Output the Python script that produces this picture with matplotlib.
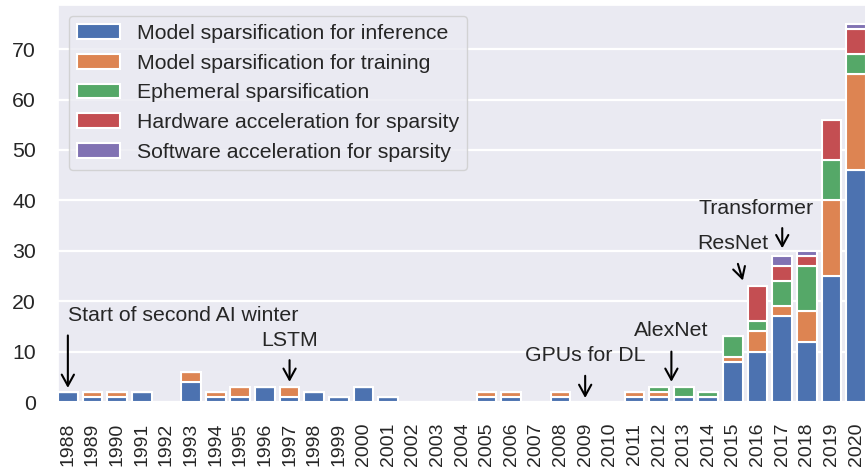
import numpy as np
import matplotlib
matplotlib.use("Agg")
import matplotlib.pyplot as plt
import seaborn as sns

years = list(range(1988, 2021))
inference = [2, 1, 1, 2, 0, 4, 1, 1, 3, 1, 2, 1, 3, 1, 0, 0, 0, 1, 1, 0, 1, 0, 0, 1, 1, 1, 1, 8, 10, 17, 12, 25, 46]
training  = [0, 1, 1, 0, 0, 2, 1, 2, 0, 2, 0, 0, 0, 0, 0, 0, 0, 1, 1, 0, 1, 0, 0, 1, 1, 0, 0, 1, 4, 2, 6, 15, 19]
ephemeral = [0, 0, 0, 0, 0, 0, 0, 0, 0, 0, 0, 0, 0, 0, 0, 0, 0, 0, 0, 0, 0, 0, 0, 0, 1, 2, 1, 4, 2, 5, 9, 8, 4]
hardware  = [0, 0, 0, 0, 0, 0, 0, 0, 0, 0, 0, 0, 0, 0, 0, 0, 0, 0, 0, 0, 0, 0, 0, 0, 0, 0, 0, 0, 7, 3, 2, 8, 5]
software  = [0, 0, 0, 0, 0, 0, 0, 0, 0, 0, 0, 0, 0, 0, 0, 0, 0, 0, 0, 0, 0, 0, 0, 0, 0, 0, 0, 0, 0, 2, 1, 0, 1]

series_labels = [
    "Model sparsification for inference",
    "Model sparsification for training",
    "Ephemeral sparsification",
    "Hardware acceleration for sparsity",
    "Software acceleration for sparsity",
]
colors = ["#4C72B0", "#DD8452", "#55A868", "#C44E52", "#8172B3"]

sns.set_theme(style="darkgrid")
plt.rcParams["font.family"] = ["Liberation Sans", "DejaVu Sans"]

FS = 15.3
fig = plt.figure(figsize=(8.65, 4.72), dpi=100)
ax = fig.add_axes([58 / 865, 1 - 402 / 472, (866 - 58) / 865, (402 - 5) / 472])

x = np.arange(len(years))
bottom = np.zeros(len(years))
for vals, lab, col in zip([inference, training, ephemeral, hardware, software], series_labels, colors):
    v = np.array(vals, dtype=float)
    ax.bar(x, v, 0.8, bottom=bottom, color=col, edgecolor="white", linewidth=1.5, label=lab)
    bottom += v

ax.set_xlim(-0.4, len(years) - 0.6)
ax.set_ylim(0, 78.75)
ax.set_yticks(range(0, 71, 10))
ax.set_xticks(x)
ax.set_xticklabels([str(y) for y in years], rotation=90)
ax.tick_params(axis="y", labelsize=FS, pad=10, colors=".15")
ax.tick_params(axis="x", labelsize=14, pad=9, colors=".15")
ax.xaxis.grid(False)
ax.yaxis.grid(True, linewidth=1.6, color="white")
ax.set_axisbelow(True)

leg = ax.legend(loc="upper left", fontsize=FS)

tc = ".15"
def arrow(x0, y0, x1, y1):
    ax.annotate("", xy=(x1, y1), xytext=(x0, y0),
                arrowprops=dict(arrowstyle="->,head_length=0.4,head_width=0.22",
                                color="black", lw=1.5, mutation_scale=20,
                                shrinkA=0, shrinkB=0))

ax.text(0.0, 17.1, "Start of second AI winter", ha="left", va="center", fontsize=FS, color=tc)
arrow(0, 13.2, 0, 2.8)
ax.text(9, 12.2, "LSTM", ha="center", va="center", fontsize=FS, color=tc)
arrow(9, 8.3, 9, 4.0)
ax.text(21, 9.3, "GPUs for DL", ha="center", va="center", fontsize=FS, color=tc)
arrow(21, 5.2, 21, 0.8)
ax.text(24.5, 14.1, "AlexNet", ha="center", va="center", fontsize=FS, color=tc)
arrow(24.5, 10.0, 24.5, 4.0)
ax.text(27.0, 31.5, "ResNet", ha="center", va="center", fontsize=FS, color=tc)
arrow(27.2, 27.4, 27.4, 24.1)
ax.text(27.95, 38.4, "Transformer", ha="center", va="center", fontsize=FS, color=tc)
arrow(29.0, 34.5, 29.0, 30.5)

fig.savefig("out.png", dpi=100)
